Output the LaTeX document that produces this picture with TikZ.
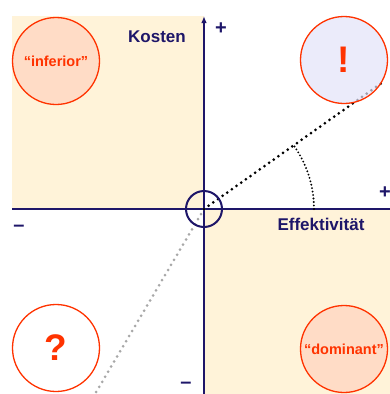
\documentclass[tikz,border=0pt]{standalone}
\usepackage{fontspec}
\setmainfont{Liberation Sans}
\usetikzlibrary{arrows.meta}
\definecolor{beige}{HTML}{FFF3D9}
\definecolor{navy}{HTML}{1E1669}
\definecolor{redo}{HTML}{FF3300}
\definecolor{peach}{HTML}{FFDCC6}
\definecolor{lav}{HTML}{E2E2F8}
\definecolor{dotgray}{HTML}{A8A8A8}
\tikzset{
  axis/.style={draw=navy, line width=2pt},
  bubble/.style={circle, draw=redo, line width=1.3pt, minimum size=87pt, inner sep=0pt, text=redo, font=\fontsize{14.5}{16}\selectfont\bfseries},
  bigmark/.style={font=\fontsize{37}{40}\selectfont\bfseries},
  axlabel/.style={text=navy, font=\fontsize{17}{19}\selectfont\bfseries, inner sep=0pt},
  signlabel/.style={text=navy, font=\fontsize{20}{21}\selectfont\bfseries, inner sep=0pt},
  blackdots/.style={draw=black, line width=3pt, line cap=round, dash pattern=on 0pt off 5.7pt},
  graydots/.style={draw=dotgray, line width=3pt, line cap=round, dash pattern=on 0pt off 5.9pt},
  arcdots/.style={draw=black, line width=2.1pt, line cap=round, dash pattern=on 0pt off 3.5pt},
}
\begin{document}
\begin{tikzpicture}[x=1pt,y=-1pt]
\useasboundingbox (0,0) rectangle (390,394);
% quadrants
\fill[beige] (12,16) rectangle (204,209);
\fill[beige] (204,209) rectangle (390,394);
% coordinates
\coordinate (O) at (204,209);
\coordinate (xl) at (12,209);
\coordinate (xr) at (390,209);
\coordinate (yb) at (204,394);
\coordinate (yt) at (204,16);
\coordinate (lineend) at (383,82);
\coordinate (grayend) at (95,394);
% axes
\draw[axis] (xl) -- (xr);
\draw[axis, -{Latex[length=7pt,width=5.5pt]}] (yb) -- (yt);
% lines
\draw[graydots] (O) -- (grayend);
\draw[blackdots] (O) -- (lineend);
\draw[arcdots] (O) ++(0:110) arc[start angle=0, end angle=-35.6, radius=110];
% origin circle
\node[circle, draw=navy, line width=2pt, minimum size=36pt, inner sep=0pt] (oc) at (O) {};
% bubbles
\node[bubble, fill=peach] (inf) at (56,61) {“inferior”};
\node[bubble, fill=lav, fill opacity=0.7, text opacity=1, bigmark] (exc) at (344,60) {!};
\node[bubble, fill=white, bigmark] (que) at (56,348) {?};
\node[bubble, fill=peach] (dom) at (344,349) {“dominant”};
% labels
\node[axlabel] (kosten) at (157,37) {Kosten};
\node[axlabel] (eff) at (321,224) {Effektivität};
\node[signlabel] (pt) at (221,29) {+};
\node[signlabel] (pr) at (385,193) {+};
\node[signlabel] (ml) at (19,228) {–};
\node[signlabel] (mb) at (186,385) {–};
\end{tikzpicture}
\end{document}
